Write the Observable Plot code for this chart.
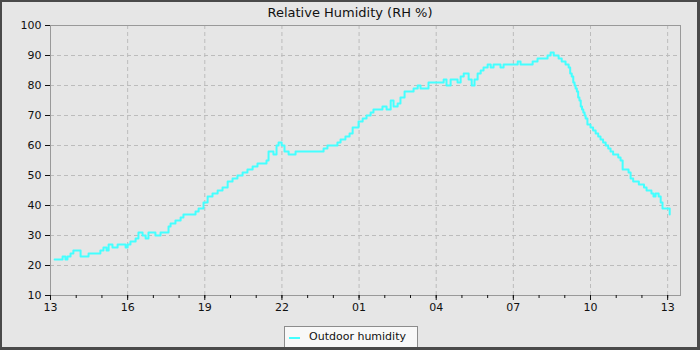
<!DOCTYPE html>
<html>
<head>
<meta charset="utf-8">
<script src="https://cdn.jsdelivr.net/npm/d3@7"></script>
<script src="https://cdn.jsdelivr.net/npm/@observablehq/plot@0.6"></script>
<style>
  html, body { margin: 0; padding: 0; background: #e6e6e6; }
  #wrap { position: relative; width: 700px; height: 350px; background: #e6e6e6; overflow: hidden;
          font-family: "DejaVu Sans", sans-serif; }
  #wrap svg { position: absolute; left: 0; top: 0; }
  #border { position: absolute; left: 0; top: 0; width: 700px; height: 350px; box-sizing: border-box;
            border-style: solid; border-color: #4a4a4a; border-width: 2px 3px 3px 2px; pointer-events: none; }
  #title { position: absolute; left: 0; width: 700px; top: 6px; text-align: center; font-size: 13px;
           line-height: 13px; color: #111; }
  #legend { position: absolute; left: 284px; top: 326px; width: 134px; height: 22px; box-sizing: border-box;
            border: 1px solid #8c8c8c; background: #f8f8f8; font-size: 11px; color: #111; }
  #legend .sw { position: absolute; left: 4px; top: 10px; width: 11px; height: 2px; background: #44ffff; }
  #legend .lb { position: absolute; left: 24px; top: 4px; line-height: 12px; white-space: nowrap; }
</style>
</head>
<body>
<div id="wrap">
  <div id="title">Relative Humidity (RH %)</div>
  <div id="legend"><span class="sw"></span><span class="lb">Outdoor humidity</span></div>
  <div id="border"></div>
</div>
<script>
// hours since 13:00 on day 1
const hours = [0.16,0.39,0.47,0.58,0.66,0.78,0.89,1.05,1.17,1.36,1.48,1.56,1.94,2.06,2.18,2.26,2.41,2.61,2.92,3.00,
  3.11,3.23,3.31,3.42,3.58,3.70,3.81,3.97,4.08,4.28,4.55,4.59,4.67,4.86,5.06,5.17,5.45,5.64,5.76,5.95,
  6.11,6.30,6.50,6.69,6.89,7.08,7.27,7.47,7.66,7.86,8.05,8.25,8.40,8.48,8.60,8.67,8.79,8.87,8.99,9.10,
  9.26,9.41,9.53,9.72,10.11,10.58,10.62,10.77,11.01,11.16,11.28,11.47,11.63,11.75,11.86,11.98,12.14,12.29,12.45,12.56,
  12.76,12.91,13.07,13.23,13.34,13.50,13.61,13.77,13.93,14.12,14.28,14.39,14.55,14.70,14.90,15.09,15.29,15.40,15.56,15.83,
  15.95,16.07,16.26,16.38,16.49,16.61,16.73,16.84,17.00,17.12,17.23,17.39,17.50,17.62,18.09,18.17,18.28,18.67,18.75,18.94,
  19.22,19.33,19.45,19.57,19.76,19.88,20.03,20.15,20.21,20.27,20.33,20.38,20.42,20.47,20.52,20.57,20.62,20.67,20.72,20.77,
  20.81,20.88,21.00,21.10,21.20,21.30,21.39,21.49,21.59,21.69,21.78,21.88,21.98,22.08,22.17,22.25,
  22.48,22.56,22.66,22.79,22.88,22.98,23.08,23.18,23.28,23.37,23.45,23.53,23.65,23.73,23.80,24.00,24.08];
const humidity = [22,22,23,22,23,24,25,25,23,23,24,24,25,26,25,27,26,27,26,27,
  28,28,29,31,30,29,31,31,30,31,31,33,34,35,36,37,37,38,39,41,
  43,44,45,46,48,49,50,51,52,53,54,54,55,58,58,57,60,61,60,58,
  57,57,58,58,58,58,59,60,60,61,62,63,64,66,66,68,69,70,71,72,
  72,73,72,75,73,74,76,78,78,79,80,79,79,81,81,81,82,80,82,81,
  83,84,82,80,82,84,85,86,87,86,87,87,86,87,87,88,87,87,88,89,
  89,90,91,90,89,88,87,86,84,83,81,80,79,78,76,75,73,72,71,70,
  69,67,66,65,64,63,62,61,60,59,58,57,57,56,55,52,
  51,49,48,48,47,47,46,45,45,44,43,44,43,41,39,39,37];
const xTickHours = [0,3,6,9,12,15,18,21,24];
const xTickLabels = ["13","16","19","22","01","04","07","10","13"];
const minorHours = d3.range(0, 25, 1);
const yTicks = [10,20,30,40,50,60,70,80,90,100];
const seriesName = "Outdoor humidity";

const base = Date.UTC(2024, 0, 1, 13);
const toDate = h => new Date(base + h * 3600e3);
const data = hours.map((h, i) => ({t: toDate(h), rh: humidity[i]}));
const majorDates = xTickHours.map(toDate);
const minorDates = minorHours.map(toDate);
const labelOf = new Map(majorDates.map((d, i) => [+d, xTickLabels[i]]));

const chart = Plot.plot({
  width: 700, height: 350,
  marginLeft: 50, marginRight: 20, marginTop: 25, marginBottom: 55,
  style: {background: "transparent", fontFamily: "DejaVu Sans", fontSize: "11px", color: "#111", overflow: "visible"},
  x: {type: "utc", domain: [toDate(0), toDate(24.5)], label: null},
  y: {domain: [10, 100], label: null},
  marks: [
    Plot.gridX(majorDates, {stroke: "#bcbcbc", strokeOpacity: 1, strokeDasharray: "4,3"}),
    Plot.gridY(yTicks, {stroke: "#bcbcbc", strokeOpacity: 1, strokeDasharray: "4,3"}),
    Plot.frame({stroke: "#999999"}),
    Plot.line(data, {x: "t", y: "rh", stroke: "#44ffff", strokeWidth: 2, curve: "step-after"}),
    Plot.axisX(minorDates, {tickSize: 3, fill: "none", label: null, stroke: "#111"}),
    Plot.axisX(majorDates, {tickSize: 5, tickPadding: 3, label: null, stroke: "#111",
      tickFormat: d => labelOf.get(+d)}),
    Plot.axisY(yTicks, {tickSize: 5, tickPadding: 4, label: null, stroke: "#111"})
  ]
});
document.getElementById("wrap").insertBefore(chart, document.getElementById("title"));
document.querySelector("#legend .lb").textContent = seriesName;
</script>
</body>
</html>
